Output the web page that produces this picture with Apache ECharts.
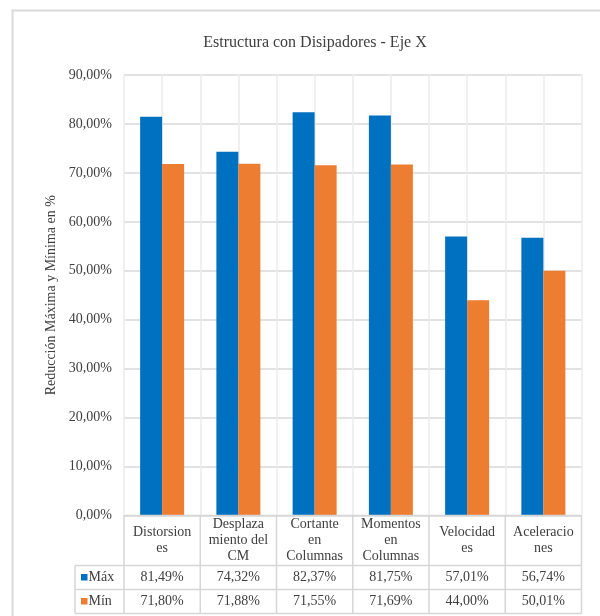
<!DOCTYPE html>
<html><head><meta charset="utf-8">
<script src="https://cdn.jsdelivr.net/npm/echarts@6/dist/echarts.min.js"></script>
<style>html,body{margin:0;padding:0;background:#fff}#c{width:600px;height:616px}</style>
</head><body><div id="c"></div>
<script>
const chartTitle = 'Estructura con Disipadores - Eje X';
const yAxisTitle = 'Reducción Máxima y Mínima en %';
const categories = ['Distorsiones', 'Desplazamiento del CM', 'Cortante en Columnas', 'Momentos en Columnas', 'Velocidades', 'Aceleraciones'];
const categoryLabels = ['Distorsion\nes', 'Desplaza\nmiento del\nCM', 'Cortante\nen\nColumnas', 'Momentos\nen\nColumnas', 'Velocidad\nes', 'Aceleracio\nnes'];
const seriesNames = ['Máx', 'Mín'];
const maxValues = [81.49, 74.32, 82.37, 81.75, 57.01, 56.74];
const minValues = [71.80, 71.88, 71.55, 71.69, 44.00, 50.01];
const yMin = 0, yMax = 90, yStep = 10;
const colors = ['#0070C0', '#ED7D31'];

const FONT = '"Liberation Serif", "Times New Roman", serif';
const TXT = '#404040';
const fmt = v => v.toFixed(2).replace('.', ',') + '%';

const chart = echarts.init(document.getElementById('c'), null, {renderer: 'canvas'});

const option = {
  animation: false,
  backgroundColor: '#fff',
  title: {
    text: chartTitle, left: 310, top: 30, textAlign: 'center',
    textStyle: {fontFamily: FONT, fontSize: 16, fontWeight: 'normal', color: TXT}
  },
  grid: {left: 124, right: 18.5, top: 75, bottom: 100.5},
  xAxis: [
    {type: 'category', data: categories, axisLabel: {show: false}, axisTick: {show: false},
     axisLine: {show: false}, splitLine: {show: false}},
    {type: 'value', min: 0, max: categories.length * 2, interval: 1, position: 'bottom',
     axisLabel: {show: false}, axisTick: {show: false}, axisLine: {show: false},
     splitLine: {show: true, lineStyle: {color: '#ebebeb', width: 1.5}}}
  ],
  yAxis: {
    type: 'value', min: yMin, max: yMax, interval: yStep,
    name: yAxisTitle, nameLocation: 'middle', nameRotate: 90, nameGap: 64,
    nameTextStyle: {fontFamily: FONT, fontSize: 14, color: TXT},
    axisLine: {show: false}, axisTick: {show: false},
    axisLabel: {formatter: v => fmt(v), fontFamily: FONT, fontSize: 14, color: TXT, margin: 12},
    splitLine: {lineStyle: {color: '#d9d9d9', width: 1.5}}
  },
  series: [
    {name: seriesNames[0], type: 'bar', data: maxValues, barWidth: 22, barGap: '0%',
     itemStyle: {color: colors[0]}, xAxisIndex: 0},
    {name: seriesNames[1], type: 'bar', data: minValues, barWidth: 22, barGap: '0%',
     itemStyle: {color: colors[1]}, xAxisIndex: 0}
  ]
};
chart.setOption(option);

// Data table under the plot, positioned from the axes
const n = categories.length;
const xs = [];
for (let i = 0; i <= n; i++) xs.push(chart.convertToPixel({xAxisIndex: 1}, i * 2));
const yBase = chart.convertToPixel({yAxisIndex: 0}, 0);
const xL = xs[0], xR = xs[n];
const hdrH = 50, rowH = 24;
const y1 = yBase + hdrH, y2 = y1 + rowH, y3 = y2 + rowH;
const xH = xL - 49;
const LC = '#d6d6d6', LW = 1.5;
const g = [];
g.push({type: 'rect', shape: {x: 12.5, y: 10.5, width: 700, height: 700},
  style: {fill: 'none', stroke: '#d9d9d9', lineWidth: 2}, z: 0, silent: true});
const line = (x1, yA, x2, yB) => g.push({type: 'line', shape: {x1, y1: yA, x2, y2: yB},
  style: {stroke: LC, lineWidth: LW}, z: 10, silent: true});
line(xL, yBase, xR, yBase);
line(xH, y1, xR, y1);
line(xH, y2, xR, y2);
line(xH, y3, xR, y3);
line(xH, y1, xH, y3);
xs.forEach(x => line(x, yBase, x, y3));
const rowVals = [maxValues, minValues];
for (let i = 0; i < n; i++) {
  const cx = (xs[i] + xs[i + 1]) / 2;
  g.push({type: 'text', z: 11, silent: true, style: {text: categoryLabels[i], x: cx, y: yBase + hdrH / 2,
    textAlign: 'center', textVerticalAlign: 'middle', verticalAlign: 'middle', lineHeight: 16,
    font: '14px ' + FONT, fill: TXT}});
  rowVals.forEach((arr, r) => {
    g.push({type: 'text', z: 11, silent: true, style: {text: fmt(arr[i]), x: cx, y: y1 + rowH * r + rowH / 2,
      textAlign: 'center', textVerticalAlign: 'middle', verticalAlign: 'middle',
      font: '14px ' + FONT, fill: TXT}});
  });
}
seriesNames.forEach((nm, r) => {
  const cy = y1 + rowH * r + rowH / 2;
  g.push({type: 'rect', z: 11, silent: true, shape: {x: xH + 6, y: cy - 3.5, width: 6.5, height: 6.5}, style: {fill: colors[r]}});
  g.push({type: 'text', z: 11, silent: true, style: {text: nm, x: xH + 13.5, y: cy,
    textAlign: 'left', textVerticalAlign: 'middle', verticalAlign: 'middle',
    font: '14px ' + FONT, fill: TXT}});
});
chart.setOption({graphic: g});
</script>
</body></html>
